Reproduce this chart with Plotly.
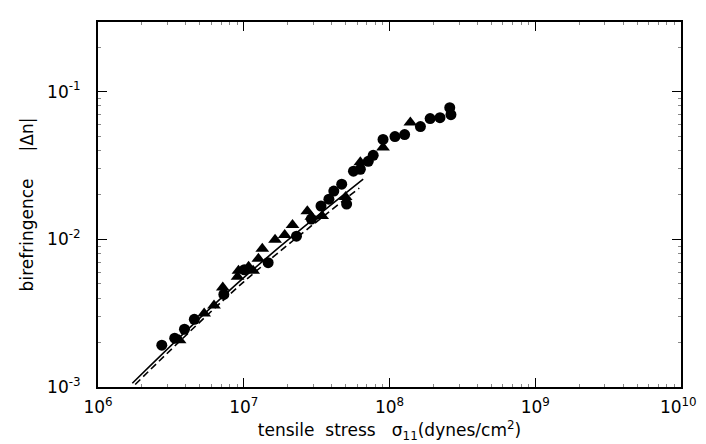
import plotly.graph_objects as go

# filled circles
circle_stress = [2.74e6, 3.36e6, 3.92e6, 4.58e6, 7.3e6, 1.01e7, 1.47e7, 2.30e7, 2.91e7,
                 3.39e7, 3.84e7, 4.15e7, 4.70e7, 5.08e7, 5.66e7, 7.15e7, 6.31e7, 7.73e7,
                 9.03e7, 1.09e8, 1.27e8, 1.63e8, 1.90e8, 2.22e8, 2.59e8, 2.64e8]
circle_biref = [1.92e-3, 2.14e-3, 2.46e-3, 2.87e-3, 4.23e-3, 6.22e-3, 6.94e-3, 1.05e-2, 1.37e-2,
                1.68e-2, 1.87e-2, 2.12e-2, 2.36e-2, 1.73e-2, 2.89e-2, 3.37e-2, 2.98e-2, 3.70e-2,
                4.74e-2, 4.96e-2, 5.12e-2, 5.80e-2, 6.56e-2, 6.66e-2, 7.78e-2, 6.98e-2]

# filled triangles
tri_stress = [3.63e6, 5.35e6, 6.25e6, 7.18e6, 9.07e6, 9.2e6, 1.08e7, 1.16e7, 1.26e7, 1.34e7,
              1.64e7, 1.91e7, 2.16e7, 2.73e7, 2.91e7, 3.45e7, 5.0e7, 6.31e7, 9.03e7, 1.39e8]
tri_biref = [2.07e-3, 3.15e-3, 3.56e-3, 4.71e-3, 5.58e-3, 6.13e-3, 6.52e-3, 6.13e-3, 7.38e-3, 8.62e-3,
             9.91e-3, 1.07e-2, 1.25e-2, 1.55e-2, 1.42e-2, 1.44e-2, 1.93e-2, 3.32e-2, 4.19e-2, 6.17e-2]

# theoretical curves (solid and dashed)
solid_stress = [1.72e6, 1.0e7, 6.6e7]
solid_biref = [1.06e-3, 5.5e-3, 2.55e-2]
dashed_stress = [1.80e6, 1.0e7, 6.2e7]
dashed_biref = [1.04e-3, 5.15e-3, 2.22e-2]

x_tickvals = [1e6, 1e7, 1e8, 1e9, 1e10]
x_ticktext = ["10<sup>6</sup>", "10<sup>7</sup>", "10<sup>8</sup>", "10<sup>9</sup>",
              "10<sup>10</sup>\u00a0"]
y_tickvals = [1e-3, 1e-2, 1e-1]
y_ticktext = ["10<sup>-3</sup>", "10<sup>-2</sup>", "10<sup>-1</sup>"]

x_minor = [m * 10 ** e for e in range(6, 10) for m in range(2, 10)]
y_minor = [m * 10 ** e for e in range(-3, 0) for m in range(2, 10) if m * 10 ** e < 0.3]

FONT = "DejaVu Sans, sans-serif"

fig = go.Figure()
fig.add_trace(go.Scatter(x=solid_stress, y=solid_biref, mode="lines",
                         line=dict(color="black", width=1.6, shape="spline"), showlegend=False))
fig.add_trace(go.Scatter(x=dashed_stress, y=dashed_biref, mode="lines",
                         line=dict(color="black", width=1.6, dash="7px,4px", shape="spline"),
                         showlegend=False))
fig.add_trace(go.Scatter(x=circle_stress, y=circle_biref, mode="markers",
                         marker=dict(symbol="circle", size=11, color="black"), showlegend=False))
fig.add_trace(go.Scatter(x=tri_stress, y=tri_biref, mode="markers",
                         marker=dict(symbol="triangle-up", size=12, color="black"), showlegend=False))

axis_common = dict(
    showgrid=False, zeroline=False, showline=True, linecolor="black", linewidth=2,
    mirror="ticks", ticks="inside", ticklen=9, tickwidth=1.3, tickcolor="black",
    tickfont=dict(family=FONT, size=17, color="black"),
    ticklabeloverflow="allow",
)

fig.update_xaxes(type="log", range=[6, 10], tickmode="array",
                 tickvals=x_tickvals, ticktext=x_ticktext, ticklabelstandoff=4,
                 minor=dict(tickmode="array", tickvals=x_minor, ticks="inside", ticklen=3,
                            tickwidth=1, tickcolor="#888", showgrid=False),
                 title=dict(text="tensile  stress   σ<sub>11</sub>(dynes/cm<sup>2</sup>)",
                            font=dict(family=FONT, size=17, color="black"), standoff=8),
                 **axis_common)
fig.update_yaxes(type="log", range=[-3, -0.529], tickmode="array",
                 tickvals=y_tickvals, ticktext=y_ticktext, ticklabelstandoff=12,
                 minor=dict(tickmode="array", tickvals=y_minor, ticks="inside", ticklen=3,
                            tickwidth=1, tickcolor="#888", showgrid=False),
                 title=dict(text="birefringence     |Δn|",
                            font=dict(family=FONT, size=17, color="black"), standoff=9),
                 **axis_common)

fig.update_layout(
    width=706, height=444,
    margin=dict(l=90, r=23, t=12, b=65),
    plot_bgcolor="white", paper_bgcolor="white",
    font=dict(family=FONT, color="black"),
)

fig.write_html("out.html")
